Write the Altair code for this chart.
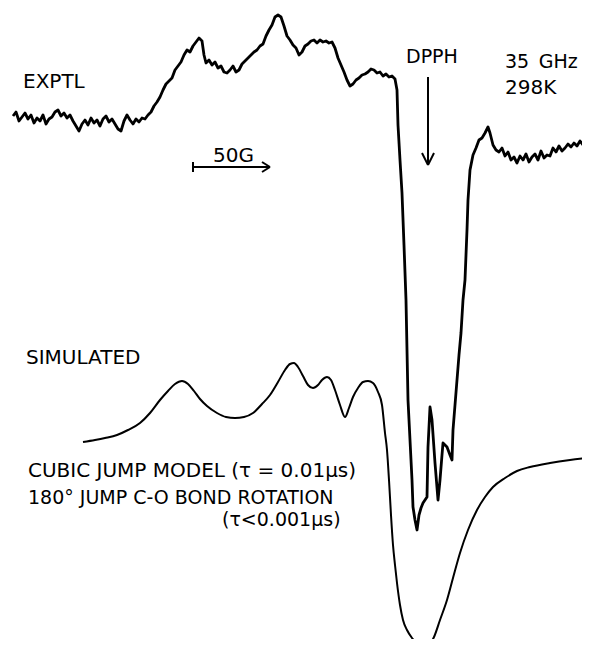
import altair as alt
import pandas as pd

exp_baseline = [(13,116),(16,112),(19,121),(22,117),(25,113),(28,119),(31,115),(34,123),(37,118),(40,121),
                (43,115),(46,124),(49,119),(52,117),(55,112),(58,110),(61,116),(64,113),(67,118),(70,115),
                (73,121),(76,126),(79,131),(82,124),(85,120),(88,125),(91,118),(94,123),(97,120),(100,126),
                (103,119),(106,116),(109,122),(112,119),(115,124),(118,129),(121,131),(124,121),(127,115),
                (130,120),(133,124),(136,119),(139,122),(142,118),(145,119),(148,115)]
exp_hump = [(151,112),(154,106),(157,102),(160,97),(163,90),(166,84),(169,81),(172,78),(175,70),(178,66),
            (181,62),(184,55),(187,50),(190,52),(193,46),(196,42),(199,38),(202,41),(204,55),(206,63),
            (209,60),(212,65),(215,62),(218,68),(221,66),(224,72),(227,73),(230,70),(233,66),(236,72),
            (239,70),(242,64),(245,61),(248,58),(251,55),(254,52),(257,50),(260,46),(263,44),(266,36),
            (269,30),(272,25),(275,17),(278,15),(281,17),(284,26),(287,36),(290,40),(293,45),(296,48),
            (299,55),(302,52),(305,46),(308,44),(311,41),(314,40),(317,43),(320,40),(323,42),(326,41),
            (329,43),(332,42),(335,48),(338,58),(341,65),(344,72),(347,80),(350,86),(353,84),(356,80),
            (359,78),(362,75),(365,74),(368,72),(371,69),(374,70),(377,73),(380,72),(383,76),(386,74),
            (389,77),(392,76),(395,79),(397,90)]
exp_dip = [(398,125),(400,160),(402,193),(404,245),(406,300),(407,350),(408,400),(410,440),(412,480),
           (413,507),(415,520),(417,530),(419,515),(421,508),(423,503),(425,500),(427,497),(428,447),
           (430,407),(432,420),(435,463),(438,500),(440,480),(442,455),(443,443),(445,445),(447,447),
           (450,455),(452,460),(453,430),(455,405),(457,380),(459,355),(461,333),(463,300),(465,280),
           (467,230),(468,200),(470,170),(473,155),(476,148),(479,140),(482,138),(485,133),(488,127)]
exp_tail = [(490,133),(493,145),(496,150),(499,152),(502,148),(505,156),(508,152),(511,160),(514,157),
            (517,163),(520,156),(523,160),(526,154),(529,162),(532,157),(535,154),(538,160),(541,151),
            (544,158),(547,155),(550,156),(553,148),(556,152),(559,146),(562,151),(565,148),(568,144),
            (571,147),(574,143),(577,146),(580,141),(583,145),(586,143),(588,148)]

# Simulated spectrum
sim_points = [(83,442),(95,440),(105,438),(117,435),(128,430),(140,423),(150,413),(160,400),(168,391),
              (175,384),(182,381),(188,384),(194,391),(200,399),(207,406),(217,413),(226,417),(235,418),
              (244,417),(253,413),(262,404),(270,395),(278,382),(285,370),(290,364),(294,363),(298,367),
              (303,376),(308,385),(313,388),(318,385),(322,380),(327,377),(331,380),(335,390),(340,405),
              (345,417),(349,408),(353,397),(358,388),(363,382),(368,381),(373,383),(378,392),(382,405),
              (385,433),(387,450),(389,480),(391,515),(393,545),(395,565),(397,583),(400,605),(403,620),
              (407,630),(412,638),(418,644),(425,647),(430,644),(434,637),(440,620),(447,600),(453,578),
              (460,553),(468,530),(477,510),(485,497),(493,487),(505,478),(517,471),(530,467),(550,463),
              (570,460),(587,458)]

# Annotations
label_text = ["EXPTL", "50G", "DPPH", "35\u2002GHz", "298K", "SIMULATED",
              "CUBIC JUMP MODEL (τ = 0.01μs)", "180° JUMP C-O BOND ROTATION", "(τ<0.001μs)"]
label_x = [23, 213, 406, 505, 505, 26, 28, 28, 222]
label_y = [82, 156, 57, 62, 88, 358, 471, 498, 520]
label_size = [20, 20, 19, 19, 20, 20, 20, 19, 19]

# Arrow segments (scale bar and DPPH marker)
seg_x1 = [193, 193, 262, 262, 428, 422, 434]
seg_x2 = [270, 193, 270, 270, 428, 428, 428]
seg_y1 = [167, 162, 162, 172, 77, 153, 153]
seg_y2 = [167, 172, 167, 167, 165, 165, 165]

exp_points = exp_baseline + exp_hump + exp_dip + exp_tail
exp_df = pd.DataFrame(exp_points, columns=["x", "y"])
exp_df["order"] = range(len(exp_df))
sim_df = pd.DataFrame(sim_points, columns=["x", "y"])
sim_df["order"] = range(len(sim_df))
lab_df = pd.DataFrame({"t": label_text, "x": label_x, "y": label_y, "s": label_size})
seg_df = pd.DataFrame({"x": seg_x1, "x2": seg_x2, "y": seg_y1, "y2": seg_y2})

xs = alt.Scale(domain=[8, 582], nice=False, zero=False)
ys = alt.Scale(domain=[639, 8], nice=False, zero=False)


def X(f):
    return alt.X(f, type="quantitative", scale=xs, axis=None)


def Y(f):
    return alt.Y(f, type="quantitative", scale=ys, axis=None)


exp_line = alt.Chart(exp_df).mark_line(color="black", strokeWidth=2.8, strokeJoin="round").encode(
    x=X("x"), y=Y("y"), order="order:Q")
sim_line = alt.Chart(sim_df).mark_line(color="black", strokeWidth=2, interpolate="monotone").encode(
    x=X("x"), y=Y("y"), order="order:Q")
segs = alt.Chart(seg_df).mark_rule(color="black", strokeWidth=2).encode(
    x=X("x"), x2="x2", y=Y("y"), y2="y2")
labels = alt.Chart(lab_df).mark_text(align="left", baseline="middle", font="DejaVu Sans",
                                     color="black").encode(
    x=X("x"), y=Y("y"), text="t:N",
    size=alt.Size("s:Q", scale=None, legend=None))

chart = alt.layer(exp_line, sim_line, segs, labels).properties(
    width=574, height=631, padding=0, autosize=alt.AutoSizeParams(type="none")
).configure(background="white", view=alt.ViewConfig(stroke="transparent", strokeWidth=0))

chart.save("out.html", embed_options={"renderer": "svg", "actions": False})
